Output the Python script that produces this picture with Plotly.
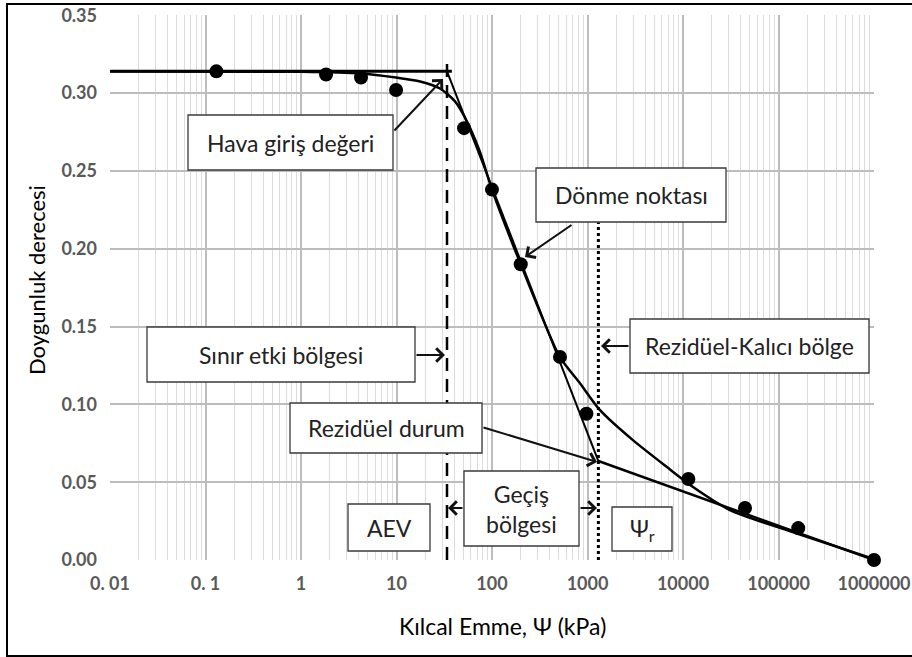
import plotly.graph_objects as go

# ---- data ----
suction_pts = [0.13, 1.83, 4.25, 9.9, 51, 100, 200, 515, 975, 11380, 44600, 161000, 1000000]
sat_pts = [0.314, 0.312, 0.310, 0.302, 0.2775, 0.238, 0.190, 0.1305, 0.094, 0.052, 0.0334, 0.0205, 0.0]

curve_x = [0.01, 1, 4.2, 9.9, 17.7, 28.5, 41, 52, 74, 100, 200, 515, 834, 1352, 2990, 6790, 12740, 31000, 156000, 1000000]
curve_y = [0.314, 0.3137, 0.3126, 0.3100, 0.3075, 0.3030, 0.2947, 0.2844, 0.263, 0.238, 0.190, 0.1303, 0.1136, 0.0963, 0.077, 0.0597, 0.0469, 0.0321, 0.017, 0.0006]

sat_top = 0.314
aev = 33.8
psi_r = 1300
sat_r = 0.0636
horiz_x = [0.01, 38]
steep_x = [aev, psi_r]
steep_y = [sat_top, sat_r]
resid_x = [psi_r, 1000000]
resid_y = [sat_r, 0.0]
aev_line_top = 0.321
psir_line_top = 0.217

x_tickvals = [0.01, 0.1, 1, 10, 100, 1000, 10000, 100000, 1000000]
x_ticktext = ["0. 01", "0. 1", "1", "10", "100", "1000", "10000", "100000", "1000000"]
y_tickvals = [0.0, 0.05, 0.10, 0.15, 0.20, 0.25, 0.30, 0.35]

# ---- layout helpers: page pixel -> paper ----
L, R, T, B = 110, 874, 15, 560
def xp(px):
    return (px - L) / (R - L)
def yp(py):
    return (B - py) / (B - T)

FONT = "Lato"
fig = go.Figure()

fig.add_trace(go.Scatter(x=horiz_x, y=[sat_top, sat_top], mode="lines",
                         line=dict(color="black", width=3), showlegend=False))
fig.add_trace(go.Scatter(x=steep_x, y=steep_y, mode="lines",
                         line=dict(color="black", width=2), showlegend=False))
fig.add_trace(go.Scatter(x=resid_x, y=resid_y, mode="lines",
                         line=dict(color="black", width=2.5), showlegend=False))
fig.add_trace(go.Scatter(x=curve_x, y=curve_y, mode="lines",
                         line=dict(color="black", width=2.5, shape="spline", smoothing=0.7),
                         showlegend=False))
fig.add_trace(go.Scatter(x=[aev, aev], y=[0, aev_line_top], mode="lines",
                         line=dict(color="black", width=2.5, dash="13px,8px"), showlegend=False))
fig.add_trace(go.Scatter(x=[psi_r, psi_r], y=[0, psir_line_top], mode="lines",
                         line=dict(color="black", width=3, dash="3px,3px"), showlegend=False))
fig.add_trace(go.Scatter(x=suction_pts, y=sat_pts, mode="markers",
                         marker=dict(color="black", size=14), cliponaxis=False, showlegend=False))

minor_vals = [m * 10 ** k for k in range(-2, 6) for m in range(2, 10)]

fig.update_xaxes(type="log", range=[-2, 6], tickmode="array", tickvals=x_tickvals,
                 ticktext=x_ticktext, showgrid=True, gridcolor="#bdbdbd", gridwidth=2,
                 zeroline=False, showline=False, ticks="", automargin=False,
                 ticklabelstandoff=11, ticklabeloverflow="allow",
                 tickfont=dict(family=FONT, size=18, color="#595959", weight="bold"),
                 minor=dict(tickmode="array", tickvals=minor_vals, showgrid=True,
                            gridcolor="#dcdcdc", gridwidth=1, ticks=""))
fig.update_yaxes(range=[0, 0.3502], tickmode="array", tickvals=y_tickvals, tickformat=".2f",
                 showgrid=True, gridcolor="#bdbdbd", gridwidth=2, zeroline=False, showline=False,
                 ticks="", ticklabelstandoff=12, automargin=False, ticklabeloverflow="allow",
                 tickfont=dict(family=FONT, size=18, color="#595959", weight="bold"))

shapes = []
annotations = []

# axis titles
annotations.append(dict(text="Kılcal Emme, Ψ (kPa)", xref="paper", yref="paper", x=xp(502), y=yp(626),
                        showarrow=False, xanchor="center", yanchor="middle",
                        font=dict(family=FONT, size=23, color="black")))
annotations.append(dict(text="Doygunluk derecesi", xref="paper", yref="paper", x=xp(36), y=yp(280),
                        showarrow=False, xanchor="center", yanchor="middle", textangle=-90,
                        font=dict(family=FONT, size=22, color="black")))

# outer frame
shapes.append(dict(type="rect", xref="paper", yref="paper", x0=xp(7), x1=xp(925), y0=yp(656), y1=yp(4),
                   line=dict(color="black", width=2), fillcolor="rgba(0,0,0,0)", layer="above"))

boxes = [
    ("Hava giriş değeri", 188, 393, 115, 170),
    ("Dönme noktası", 536, 726, 168, 222),
    ("Sınır etki bölgesi", 147, 415, 327, 382),
    ("Rezidüel-Kalıcı bölge", 630, 869, 319, 373),
    ("Rezidüel durum", 290, 482, 403, 453),
    ("AEV", 348, 430, 504, 551),
    ("Geçiş<br>bölgesi", 464, 579, 471, 546),
    ("Ψ<sub>r</sub>", 612, 672, 507, 551),
]
for text, x0, x1, y0, y1 in boxes:
    shapes.append(dict(type="rect", xref="paper", yref="paper", x0=xp(x0), x1=xp(x1),
                       y0=yp(y1), y1=yp(y0), line=dict(color="#3a3a3a", width=1.3),
                       fillcolor="white", layer="above"))
    annotations.append(dict(text=text, xref="paper", yref="paper", x=xp((x0 + x1) / 2),
                            y=yp((y0 + y1) / 2), showarrow=False, xanchor="center", yanchor="middle",
                            font=dict(family=FONT, size=23, color="#222222")))

arrows = [
    ((393, 132), (443, 79)),
    ((573, 224), (525, 257)),
    ((415, 355), (445, 355)),
    ((630, 346), (601, 346)),
    ((482, 427), (597, 462)),
    ((464, 508), (448, 508)),
    ((579, 508), (597, 508)),
]
for (tx, ty), (hx, hy) in arrows:
    annotations.append(dict(text="", xref="paper", yref="paper", x=xp(hx), y=yp(hy),
                            axref="pixel", ayref="pixel", ax=tx - hx, ay=ty - hy,
                            showarrow=True, arrowhead=4, arrowsize=1.3, arrowwidth=2,
                            arrowcolor="#111111"))

fig.update_layout(width=912, height=657,
                  margin=dict(l=L, r=912 - R, t=T, b=657 - B),
                  paper_bgcolor="white", plot_bgcolor="white", shapes=shapes,
                  annotations=annotations, showlegend=False)

fig.write_html("out.html", config={"displayModeBar": False},
               post_script="document.body.style.margin='0';document.body.style.overflow='hidden';")
